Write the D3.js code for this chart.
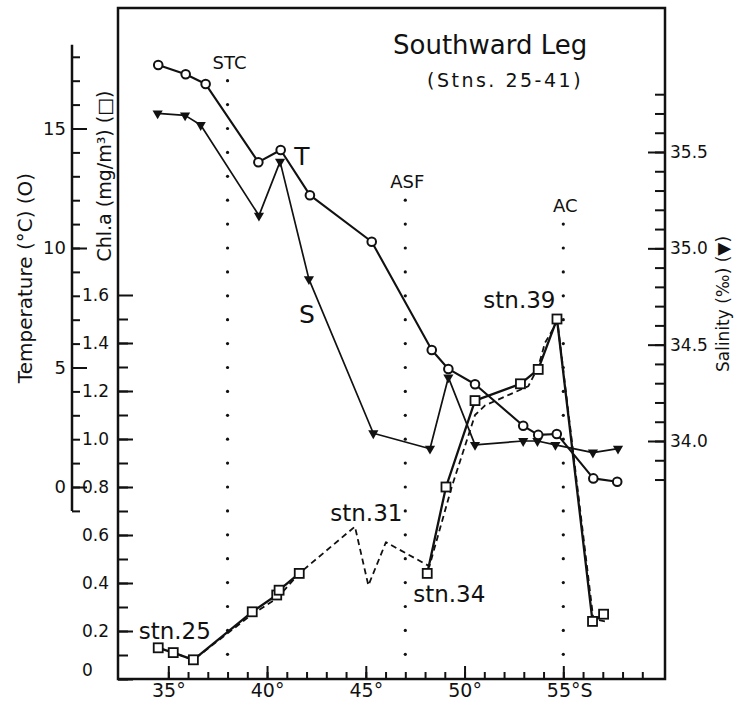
<!DOCTYPE html>
<html>
<head>
<meta charset="utf-8">
<script src="https://cdn.jsdelivr.net/npm/d3@7"></script>
<style>
  body { margin: 0; background: #fff; }
  text { font-family: "DejaVu Sans", sans-serif; fill: #111; }
  .axis text { font-size: 17px; }
  .axis line, .axis path { stroke: #111; stroke-width: 2; }
</style>
</head>
<body>
<div id="visContainer"></div>
<script>
'use strict';

// temperature (open circles)
var lat_T = [34.49, 35.88, 36.89, 39.56, 40.69, 42.17, 45.30, 48.34, 49.18, 50.53, 52.97, 53.73, 54.67, 56.52, 57.73];
var temp = [17.66, 17.27, 16.86, 13.59, 14.10, 12.21, 10.26, 5.73, 4.94, 4.30, 2.56, 2.18, 2.22, 0.36, 0.22];

// salinity (filled triangles)
var lat_S = [34.46, 35.85, 36.64, 39.59, 40.66, 42.12, 45.38, 48.25, 49.18, 50.53, 52.97, 53.69, 54.60, 56.50, 57.77];
var salinity = [35.70, 35.69, 35.64, 35.17, 35.45, 34.84, 34.04, 33.96, 34.33, 33.98, 34.00, 34.00, 33.98, 33.94, 33.96];

// chl.a at stations (open squares), solid line broken between stn.30 and stn.34
var lat_chl = [34.49, 35.25, 36.27, 39.25, 40.49, 40.61, 41.63, 48.11, 49.06, 50.53, 52.83, 53.73, 54.68, 56.48, 57.04];
var chl = [0.13, 0.11, 0.08, 0.28, 0.35, 0.37, 0.44, 0.44, 0.80, 1.16, 1.23, 1.29, 1.50, 0.24, 0.27];
var chlBreak = 7; // first index of second solid piece

// chl.a continuous record (dashed)
var lat_dash = [34.49, 35.25, 36.27, 39.25, 40.49, 41.63, 44.45, 45.13, 46.02, 48.22, 49.35, 50.53, 51.04, 53.23, 53.73, 54.07, 54.70, 56.52, 57.11];
var chl_dash = [0.13, 0.11, 0.08, 0.27, 0.335, 0.44, 0.635, 0.39, 0.57, 0.47, 0.80, 1.10, 1.14, 1.22, 1.30, 1.40, 1.49, 0.25, 0.24];

// fronts
var frontNames = ['STC', 'ASF', 'AC'];
var frontLat = [38, 47, 55];
var frontTopT = [17, 12, 11];

// tick labels
var latTicks = [35, 40, 45, 50, 55];
var chlTicks = [0, 0.2, 0.4, 0.6, 0.8, 1.0, 1.2, 1.4, 1.6];
var tempTicks = [0, 5, 10, 15];
var salTicks = [34.0, 34.5, 35.0, 35.5];

// station labels [text, lat, chl]
var stnLabels = [['stn.25', 33.5, 0.165], ['stn.31', 43.2, 0.66], ['stn.34', 47.4, 0.32], ['stn.39', 50.95, 1.545]];

var width = 735;
var height = 704;
var frame = { left: 118, right: 665, top: 8, bottom: 679 };

var svg = d3.select('#visContainer')
    .append('svg')
    .attr('width', width)
    .attr('height', height);

var x = d3.scaleLinear().domain([35, 55]).range([168.3, 563.3]);
var yChl = d3.scaleLinear().domain([0, 1.6]).range([679, 295]);
var yT = d3.scaleLinear().domain([0, 15]).range([487, 128.5]);
var yS = d3.scaleLinear().domain([34.0, 35.5]).range([441, 152]);

// frame
svg.append('rect')
    .attr('x', frame.left).attr('y', frame.top)
    .attr('width', frame.right - frame.left)
    .attr('height', frame.bottom - frame.top)
    .attr('fill', 'none').attr('stroke', '#111').attr('stroke-width', 2.5);

/* ---- axes ---- */
function noDomain(g) { g.select('.domain').remove(); }

// x axis, ticks point inward
svg.append('g').attr('class', 'axis')
    .attr('transform', 'translate(0,' + frame.bottom + ')')
    .call(d3.axisBottom(x).tickValues(d3.range(35, 60)).tickSize(-7).tickFormat(''))
    .call(noDomain);
var xAx = svg.append('g').attr('class', 'axis')
    .attr('transform', 'translate(0,' + frame.bottom + ')')
    .call(d3.axisBottom(x).tickValues(latTicks).tickSize(-13).tickPadding(5)
        .tickFormat(function(d) { return d + '°'; }))
    .call(noDomain);
xAx.selectAll('text').style('font-size', '19px');
xAx.selectAll('text').filter(function(d) { return d == 55; })
    .text('55°S').attr('text-anchor', 'start').attr('x', -17);

// chl axis on the left frame
svg.append('g').attr('class', 'axis')
    .attr('transform', 'translate(' + frame.left + ',0)')
    .call(d3.axisLeft(yChl).tickValues(d3.range(0, 16).map(function(i) { return i / 10; })).tickSize(-10).tickFormat(''))
    .call(noDomain);
var cAx = svg.append('g').attr('class', 'axis')
    .attr('transform', 'translate(' + frame.left + ',0)')
    .call(d3.axisLeft(yChl).tickValues(chlTicks).tickSize(-15)
        .tickFormat(function(d) { return d == 0 ? '0' : d3.format('.1f')(d); }))
    .call(noDomain);
cAx.selectAll('text').attr('text-anchor', 'start').attr('x', -36);
cAx.selectAll('text').filter(function(d) { return d == 0; }).attr('y', -9);

// temperature axis, separate line further left
var tX = 72;
svg.append('line')
    .attr('x1', tX).attr('x2', tX)
    .attr('y1', yT(18.5)).attr('y2', yT(-1))
    .attr('stroke', '#111').attr('stroke-width', 2.5);
svg.append('g').attr('class', 'axis')
    .attr('transform', 'translate(' + tX + ',0)')
    .call(d3.axisLeft(yT).tickValues(d3.range(-1, 19)).tickSize(-8).tickFormat(''))
    .call(noDomain);
var tAx = svg.append('g').attr('class', 'axis')
    .attr('transform', 'translate(' + tX + ',0)')
    .call(d3.axisLeft(yT).tickValues(tempTicks).tickSize(-15).tickPadding(6))
    .call(noDomain);
tAx.selectAll('text').style('font-size', '18px');

// salinity axis on the right frame
svg.append('g').attr('class', 'axis')
    .attr('transform', 'translate(' + frame.right + ',0)')
    .call(d3.axisRight(yS).tickValues(d3.range(338, 359).map(function(i) { return i / 10; })).tickSize(-10).tickFormat(''))
    .call(noDomain);
svg.append('g').attr('class', 'axis')
    .attr('transform', 'translate(' + frame.right + ',0)')
    .call(d3.axisRight(yS).tickValues(salTicks).tickSize(-17).tickPadding(5).tickFormat(d3.format('.1f')))
    .call(noDomain);

// axis titles
function vTitle(tx, ty, label, size) {
    svg.append('text')
        .attr('transform', 'translate(' + tx + ',' + ty + ') rotate(-90)')
        .attr('text-anchor', 'middle')
        .style('font-size', size + 'px')
        .text(label);
}
vTitle(32, 278, 'Temperature (°C) (O)', 20);
vTitle(111, 176, 'Chl.a (mg/m³) (□)', 19);
vTitle(729, 304, 'Salinity (‰) (▼)', 17);

/* ---- fronts (dotted) ---- */
frontNames.forEach(function(name, i) {
    var fx = x(frontLat[i]);
    svg.append('g').selectAll('circle')
        .data(d3.range(-7, frontTopT[i] + 1))
        .enter().append('circle')
        .attr('cx', fx).attr('cy', function(d) { return yT(d); })
        .attr('r', 1.6).attr('fill', '#111');
    svg.append('text')
        .attr('x', fx + 2).attr('y', yT(frontTopT[i]) - 12)
        .attr('text-anchor', 'middle')
        .style('font-size', '18px')
        .text(name);
});

/* ---- title ---- */
svg.append('text').attr('x', 393).attr('y', 54).style('font-size', '26px').text('Southward Leg');
svg.append('text').attr('x', 427).attr('y', 87).style('font-size', '19px')
    .style('letter-spacing', '2.5px').text('(Stns. 25-41)');

/* ---- data ---- */
function pairs(xs, ys) { return xs.map(function(d, i) { return [d, ys[i]]; }); }

function drawLine(data, yScale, w, dash) {
    var line = d3.line()
        .x(function(d) { return x(d[0]); })
        .y(function(d) { return yScale(d[1]); });
    svg.append('path')
        .attr('d', line(data))
        .attr('fill', 'none')
        .attr('stroke', '#111')
        .attr('stroke-width', w)
        .attr('stroke-dasharray', dash || null)
        .attr('stroke-linejoin', 'round');
}

var tData = pairs(lat_T, temp);
var sData = pairs(lat_S, salinity);
var cData = pairs(lat_chl, chl);
var dData = pairs(lat_dash, chl_dash);

drawLine(dData, yChl, 1.8, '6,4');
drawLine(cData.slice(0, chlBreak), yChl, 2.3);
drawLine(cData.slice(chlBreak), yChl, 2.3);
drawLine(sData, yS, 1.7);
drawLine(tData, yT, 2.1);

// salinity triangles (pointing down)
svg.append('g').selectAll('path')
    .data(sData).enter().append('path')
    .attr('d', d3.symbol().type(d3.symbolTriangle).size(45))
    .attr('transform', function(d) { return 'translate(' + x(d[0]) + ',' + yS(d[1]) + ') rotate(180)'; })
    .attr('fill', '#111');

// chl squares
svg.append('g').selectAll('rect')
    .data(cData).enter().append('rect')
    .attr('x', function(d) { return x(d[0]) - 4.5; })
    .attr('y', function(d) { return yChl(d[1]) - 4.5; })
    .attr('width', 9).attr('height', 9)
    .attr('fill', '#fff').attr('stroke', '#111').attr('stroke-width', 1.8);

// temperature circles
svg.append('g').selectAll('circle')
    .data(tData).enter().append('circle')
    .attr('cx', function(d) { return x(d[0]); })
    .attr('cy', function(d) { return yT(d[1]); })
    .attr('r', 4.3)
    .attr('fill', '#fff').attr('stroke', '#111').attr('stroke-width', 2);

// series letters
svg.append('text').attr('x', x(41.76)).attr('y', yT(13.47)).attr('text-anchor', 'middle')
    .style('font-size', '25px').text('T');
svg.append('text').attr('x', x(42.02)).attr('y', yS(34.61)).attr('text-anchor', 'middle')
    .style('font-size', '25px').text('S');

// station labels
stnLabels.forEach(function(s) {
    svg.append('text')
        .attr('x', x(s[1])).attr('y', yChl(s[2]))
        .style('font-size', '23px')
        .text(s[0]);
});
</script>
</body>
</html>
